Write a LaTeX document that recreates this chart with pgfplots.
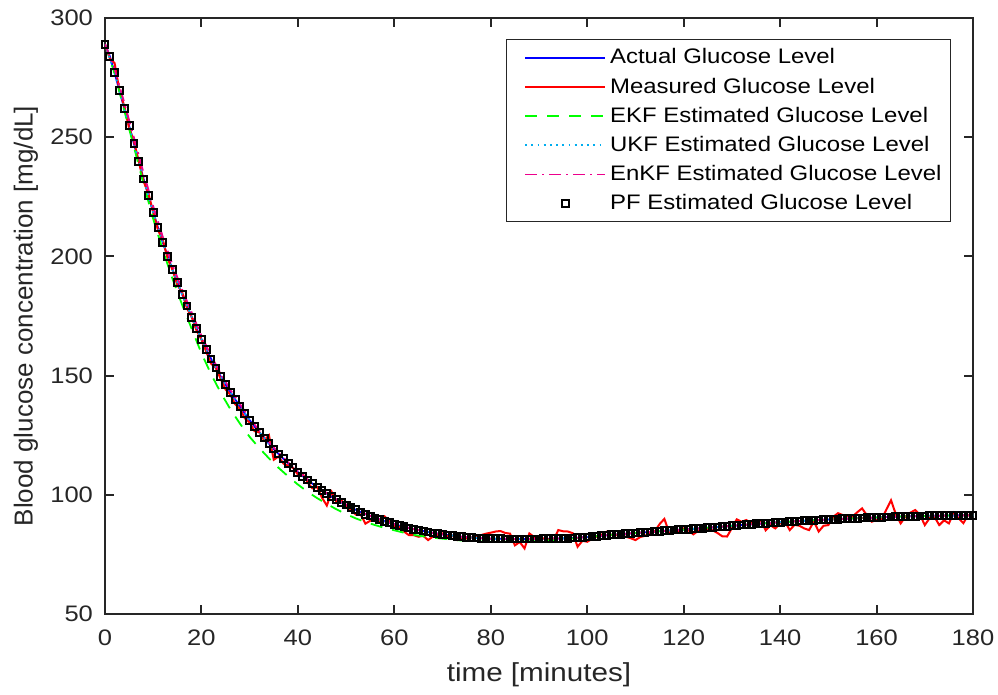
\documentclass[border=0pt]{standalone}
\usepackage{pgfplots}
\pgfplotsset{compat=1.18}
\usepackage{pgfplotstable}
\usepackage{fontspec}
\setmainfont[FakeStretch=1.14]{Liberation Sans}
\newfontfamily\plainsans{Liberation Sans}
\definecolor{axgray}{gray}{0.15}

\pgfplotstableread{
t A M
0 289.0 289.0
1 284.0 283.0
2 277.0 281.0
3 269.5 269.5
4 262.0 263.0
5 254.8 253.8
6 247.3 248.3
7 239.8 239.8
8 232.5 231.5
9 225.4 226.4
10 218.5 218.5
11 212.0 211.0
12 205.8 206.8
13 200.0 199.0
14 194.4 194.4
15 189.0 188.0
16 184.0 185.0
17 179.2 178.2
18 174.5 174.5
19 169.8 168.8
20 165.2 165.2
21 161.0 160.0
22 157.0 155.0
23 153.2 153.2
24 149.6 148.6
25 146.2 144.2
26 143.0 142.0
27 140.0 138.0
28 137.0 136.0
29 134.1 132.1
30 131.3 130.3
31 128.7 126.7
32 126.2 126.2
33 123.8 122.8
34 121.5 125.0
35 119.2 114.7
36 117.1 116.1
37 115.1 113.1
38 113.2 112.2
39 111.3 111.3
40 109.5 108.5
41 107.8 108.8
42 106.2 105.2
43 104.7 102.7
44 103.2 103.2
45 101.8 98.8
46 100.5 95.5
47 99.2 101.2
48 97.9 96.9
49 96.8 97.8
50 95.7 95.7
51 94.7 93.7
52 93.7 91.7
53 92.8 91.8
54 91.9 87.9
55 91.1 89.1
56 90.3 90.3
57 89.6 88.6
58 88.9 90.9
59 88.3 88.8
60 87.7 86.7
61 87.1 86.6
62 86.6 84.6
63 86.1 83.1
64 85.6 83.1
65 85.2 82.4
66 84.8 82.8
67 84.4 81.0
68 84.0 82.5
69 83.7 83.2
70 83.4 83.8
71 83.1 82.6
72 82.9 82.9
73 82.6 81.0
74 82.4 81.4
75 82.2 81.7
76 82.1 82.1
77 81.9 82.4
78 81.8 83.1
79 81.7 83.7
80 81.6 84.1
81 81.6 84.6
82 81.6 84.8
83 81.5 84.0
84 81.5 83.7
85 81.5 78.8
86 81.5 80.2
87 81.5 77.5
88 81.5 83.8
89 81.5 82.3
90 81.5 81.8
91 81.6 81.7
92 81.6 81.3
93 81.6 81.0
94 81.7 85.2
95 81.7 84.7
96 81.8 84.6
97 81.9 83.9
98 82.0 78.2
99 82.2 80.7
100 82.3 80.3
101 82.5 81.5
102 82.6 82.6
103 82.8 83.3
104 83.0 84.5
105 83.2 83.2
106 83.3 83.1
107 83.5 83.0
108 83.6 82.4
109 83.8 81.8
110 84.0 81.0
111 84.1 82.3
112 84.3 82.8
113 84.4 83.9
114 84.6 84.6
115 84.7 87.7
116 84.9 89.9
117 85.0 84.0
118 85.2 84.7
119 85.3 84.3
120 85.4 85.9
121 85.6 85.1
122 85.7 83.4
123 85.9 84.9
124 86.0 85.2
125 86.2 85.7
126 86.3 85.1
127 86.5 84.0
128 86.6 82.6
129 86.8 82.5
130 87.0 86.0
131 87.1 89.7
132 87.3 88.7
133 87.4 89.4
134 87.6 88.0
135 87.8 88.8
136 87.9 89.3
137 88.1 85.1
138 88.2 87.2
139 88.4 85.9
140 88.5 88.0
141 88.6 88.8
142 88.7 85.2
143 88.9 87.4
144 89.0 87.0
145 89.1 85.9
146 89.2 85.2
147 89.3 88.8
148 89.4 84.6
149 89.5 87.0
150 89.6 87.3
151 89.7 90.7
152 89.8 92.3
153 89.9 91.5
154 90.0 91.0
155 90.1 90.8
156 90.2 92.7
157 90.3 94.3
158 90.4 91.4
159 90.4 88.7
160 90.5 89.5
161 90.6 89.5
162 90.7 93.7
163 90.7 97.7
164 90.8 91.8
165 90.9 88.0
166 90.9 90.9
167 91.0 92.5
168 91.0 93.6
169 91.1 91.6
170 91.1 87.3
171 91.2 90.2
172 91.2 90.8
173 91.2 87.3
174 91.3 89.3
175 91.3 88.0
176 91.3 92.5
177 91.4 90.2
178 91.4 88.1
179 91.4 91.6
180 91.4 91.4
}\tblA

\pgfplotstableread{
t E U N
0 289.0 289.0 289.0
2 276.7 277.0 278.5
4 261.2 262.0 264.5
6 245.9 247.3 249.8
8 230.4 232.5 235.0
10 215.7 218.5 221.0
12 202.5 205.8 208.1
14 190.6 194.4 196.4
16 179.7 184.0 186.0
18 169.5 174.5 176.3
20 159.4 165.2 166.7
22 150.6 157.0 158.3
24 142.8 149.6 150.8
26 135.9 143.0 144.0
28 129.8 137.0 138.0
30 124.3 131.3 132.1
32 119.6 126.2 126.9
34 115.3 121.5 122.1
36 111.3 117.1 117.6
38 107.7 113.2 113.6
40 104.3 109.5 109.9
42 101.3 106.2 106.5
44 98.6 103.2 103.5
46 96.2 100.5 100.7
48 93.9 97.9 98.1
50 91.9 95.7 95.9
52 90.1 93.7 93.8
54 88.6 91.9 92.0
56 87.3 90.3 90.4
58 86.1 88.9 89.0
60 85.1 87.7 87.7
62 84.1 86.6 86.6
64 83.2 85.6 85.6
66 82.6 84.8 84.8
68 82.0 84.0 84.0
70 81.6 83.4 83.4
72 81.2 82.9 82.9
74 80.8 82.4 82.4
76 80.6 82.1 82.1
78 80.4 81.8 81.8
80 80.3 81.6 81.6
82 80.4 81.6 81.6
84 80.3 81.5 81.5
86 80.4 81.5 81.5
88 80.5 81.5 81.5
90 80.6 81.5 81.5
92 80.9 81.6 81.6
94 81.2 81.7 81.7
96 81.5 81.8 81.8
98 81.9 82.0 82.0
100 82.3 82.3 82.3
105 83.2 83.2 83.2
110 84.0 84.0 84.0
115 84.7 84.7 84.7
120 85.4 85.4 85.4
125 86.2 86.2 86.2
130 87.0 87.0 87.0
135 87.8 87.8 87.8
140 88.5 88.5 88.5
145 89.1 89.1 89.1
150 89.6 89.6 89.6
155 90.1 90.1 90.1
160 90.5 90.5 90.5
165 90.9 90.9 90.9
170 91.1 91.1 91.1
175 91.3 91.3 91.3
180 91.4 91.4 91.4
}\tblB

\begin{document}
\begin{tikzpicture}
\begin{axis}[
  name=ax,
  scale only axis,
  width=434pt, height=298pt,
  xmin=0, xmax=180, ymin=50, ymax=300,
  xtick={0,20,...,180},
  ytick={50,100,...,300},
  tick align=inside,
  major tick length=4.5pt,
  axis line style={axgray, line width=1pt},
  every tick/.style={axgray, line width=1pt},
  /pgf/number format/assume math mode=true,
  ticklabel style={font=\fontsize{11.2}{12}\selectfont, text=axgray},
  xticklabel style={yshift=-4.5pt},
  yticklabel style={xshift=-2.5pt},
  xlabel={time [minutes]},
  ylabel={Blood glucose concentration [mg/dL]},
  xlabel style={font=\fontsize{13}{15}\selectfont, text=axgray,
    at={(axis description cs:0.5,0)}, anchor=center, yshift=-30.5pt},
  ylabel style={font=\plainsans\fontsize{13}{15}\selectfont, text=axgray,
    at={(axis description cs:0,0.5)}, anchor=center, yshift=39.5pt},
  legend cell align=left,
  legend style={at={(0.9747,0.9648)}, anchor=north east,
    draw=axgray, line width=0.6pt, fill=white,
    font=\fontsize{10.5}{12}\selectfont, row sep=1.5pt,
    inner xsep=2.5pt, inner ysep=2.5pt},
  legend image code/.code={\path (0pt,0pt); \draw[mark repeat=2,mark phase=2,#1] plot coordinates {(6.5pt,0pt) (26.5pt,0pt) (46.5pt,0pt)};},
]
\addplot[blue, line width=0.9pt] table[x=t,y=A]{\tblA};
\addlegendentry{Actual Glucose Level}
\addplot[red, line width=1pt] table[x=t,y=M]{\tblA};
\addlegendentry{Measured Glucose Level}
\addplot[green, line width=0.9pt, dash pattern=on 6pt off 5pt] table[x=t,y=E]{\tblB};
\addlegendentry{EKF Estimated Glucose Level}
\addplot[cyan, line width=0.9pt, dash pattern=on 0.9pt off 2.2pt] table[x=t,y=U]{\tblB};
\addlegendentry{UKF Estimated Glucose Level}
\addplot[magenta, line width=0.9pt, dash pattern=on 6pt off 2.5pt on 1pt off 2.5pt] table[x=t,y=N]{\tblB};
\addlegendentry{EnKF Estimated Glucose Level}
\addplot[only marks, mark=square, mark size=1.7pt, mark options={draw=black, line width=1pt, fill=none}] table[x=t,y=A]{\tblA};
\addlegendentry{PF Estimated Glucose Level}
\end{axis}
\pgfresetboundingbox
\path[use as bounding box] ([xshift=-52.5pt,yshift=-40pt]ax.south west) rectangle ([xshift=12.5pt,yshift=9pt]ax.north east);
\end{tikzpicture}
\end{document}
